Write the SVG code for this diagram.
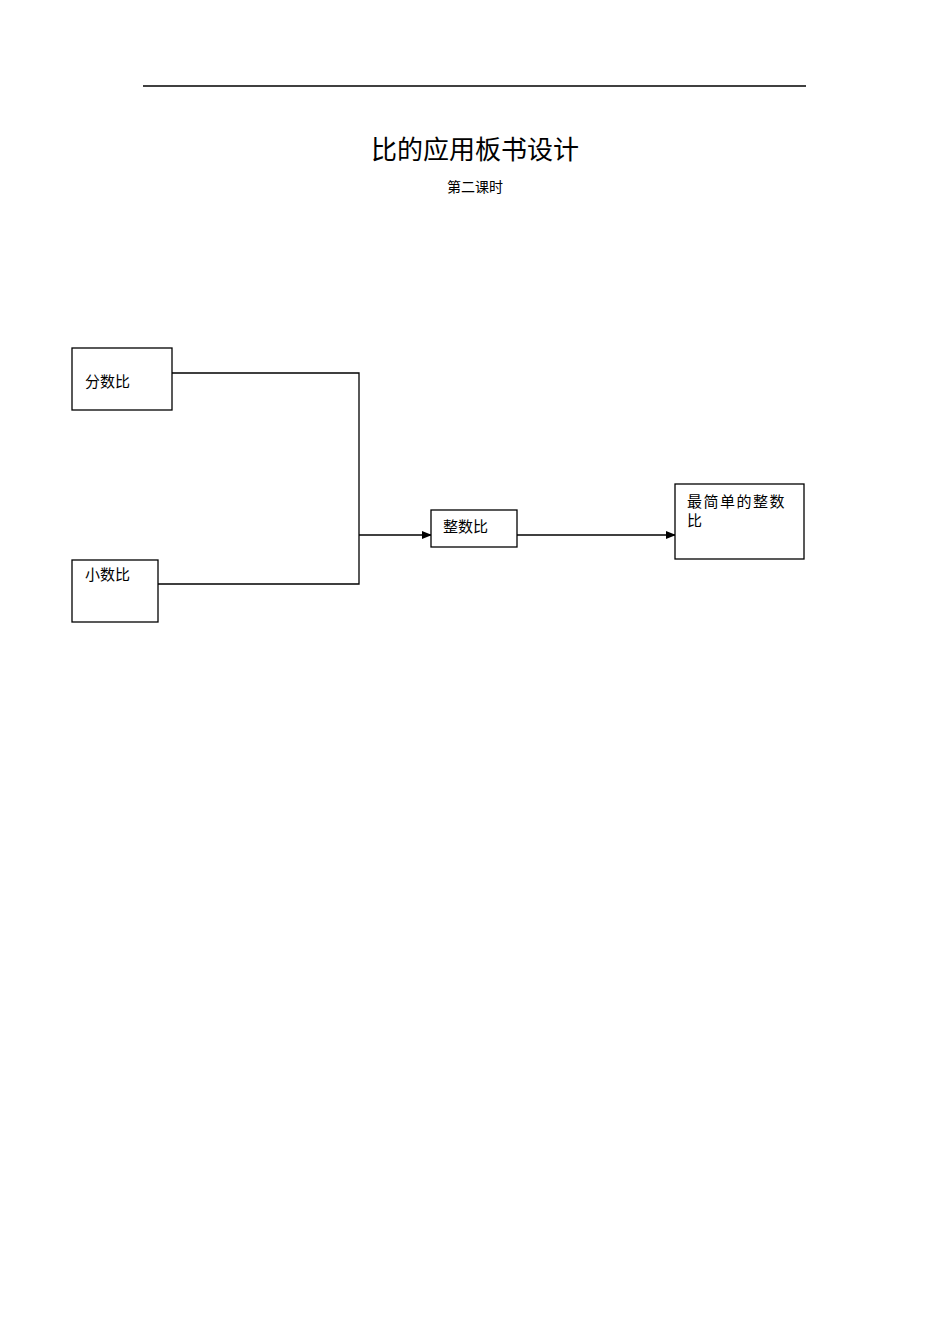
<svg xmlns="http://www.w3.org/2000/svg" width="950" height="1344" viewBox="0 0 950 1344">
<defs>
<style>
text{font-family:"Liberation Serif","Noto Sans CJK SC",serif;fill:#000}
.b{fill:#fff;stroke:#000;stroke-width:1.3}
.l{fill:none;stroke:#000;stroke-width:1.3}
.t{font-size:15px}
</style>
<marker id="a" markerWidth="10" markerHeight="8" refX="9" refY="4" orient="auto" markerUnits="userSpaceOnUse"><path d="M0,0 L10,4 L0,8 Z" fill="#000"/></marker>
</defs>
<rect width="950" height="1344" fill="#fff"/>
<line x1="143" y1="86" x2="806" y2="86" stroke="#000" stroke-width="1.3"/>
<text x="475" y="159" font-size="26" text-anchor="middle">比的应用板书设计</text>
<text x="475" y="192" font-size="14" text-anchor="middle">第二课时</text>
<g id="connectors">
<polyline class="l" points="172,373 359,373 359,584 158,584"/>
<line class="l" x1="359" y1="535" x2="431" y2="535" marker-end="url(#a)"/>
<line class="l" x1="517" y1="535" x2="675" y2="535" marker-end="url(#a)"/>
</g>
<g id="n1"><rect class="b" x="72" y="348" width="100" height="62"/><text class="t" x="85" y="387">分数比</text></g>
<g id="n2"><rect class="b" x="72" y="560" width="86" height="62"/><text class="t" x="85" y="580">小数比</text></g>
<g id="n3"><rect class="b" x="431" y="510" width="86" height="37"/><text class="t" x="443" y="532">整数比</text></g>
<g id="n4"><rect class="b" x="675" y="484" width="129" height="75"/><text class="t" x="687" y="507" letter-spacing="1.5">最简单的整数</text><text class="t" x="687" y="526">比</text></g>
</svg>
